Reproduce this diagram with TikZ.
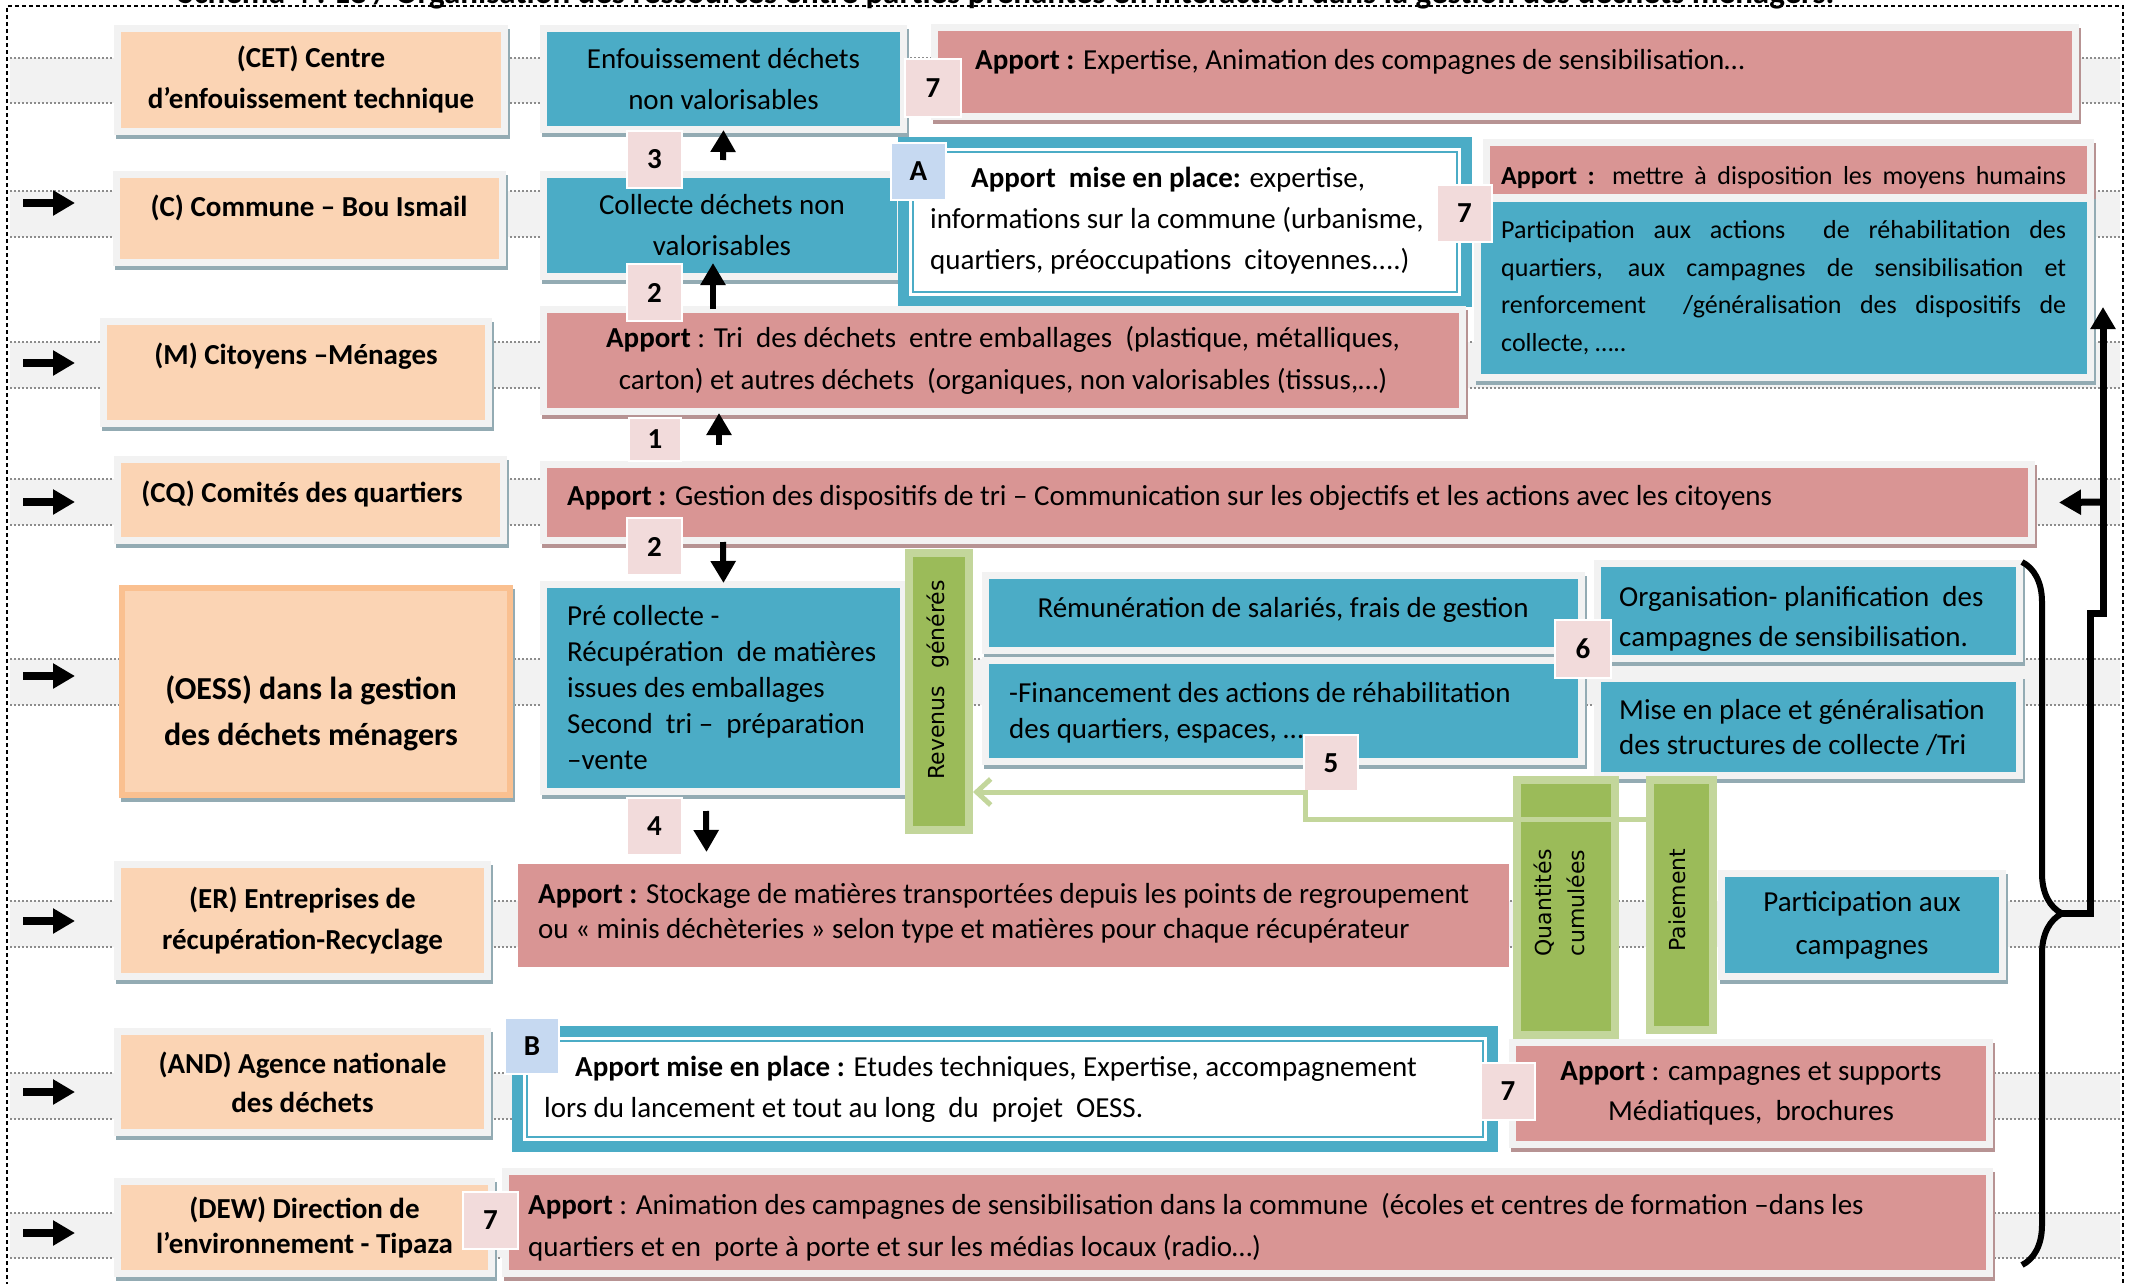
\documentclass[tikz,border=0pt]{standalone}
\usepackage{fontspec}
\setmainfont{Carlito}
\newfontfamily\barfont{DejaVu Sans}
\usepackage{xcolor}
\definecolor{PeachFill}{HTML}{FBD4B4}
\definecolor{PeachLine}{HTML}{FAC090}
\definecolor{TealFill}{HTML}{4BACC6}
\definecolor{RoseFill}{HTML}{D99594}
\definecolor{TagRose}{HTML}{F2DBDB}
\definecolor{TagBlue}{HTML}{C6D9F1}
\definecolor{LeafGreen}{HTML}{9BBB59}
\definecolor{PaleGreen}{HTML}{C3D69B}
\definecolor{FrameGray}{HTML}{F2F2F2}
\definecolor{ShadeBlue}{HTML}{93ABB3}
\definecolor{ShadeRose}{HTML}{B79393}
\definecolor{DotGray}{HTML}{8C8C8C}
\usetikzlibrary{arrows.meta, positioning, decorations.pathreplacing}

\tikzset{
  card/.style={anchor=north west, inner sep=0pt, outer sep=0pt,
    preaction={draw=#1, line width=14pt, transform canvas={shift={(2pt,-4pt)}}},
    preaction={draw=FrameGray, line width=14pt}},
  peachcard/.style={card=ShadeBlue, fill=PeachFill},
  tealcard/.style={card=ShadeBlue, fill=TealFill},
  rosecard/.style={card=ShadeRose, fill=RoseFill},
  planbox/.style={anchor=north west, inner sep=0pt, fill=white, draw=TealFill, line width=2pt,
    preaction={draw=TealFill, line width=30pt}, preaction={draw=white, line width=8pt}},
  greenbar/.style={anchor=north west, inner sep=0pt, fill=LeafGreen, draw=PaleGreen, line width=8pt},
  tag/.style={anchor=north west, fill=TagRose, draw=white, line width=2pt, inner sep=0pt,
    minimum width=55pt, minimum height=57pt, font=\bfseries\fontsize{29}{30}\selectfont},
  bluetag/.style={tag, fill=TagBlue},
  txt/.style={inner sep=0pt, font=\fontsize{29}{41}\selectfont},
  boldtxt/.style={inner sep=0pt, font=\bfseries\fontsize{29}{41}\selectfont},
  bartext/.style={inner sep=0pt, rotate=90, font=\barfont\fontsize{22}{33}\selectfont},
  rowline/.style={DotGray, line width=2pt, dash pattern=on 2pt off 2pt},
  border/.style={line width=2pt, dash pattern=on 4pt off 3pt},
  flow/.style={line width=6pt, -{Triangle[length=22pt, width=24pt]}},
  rowarrow/.style={line width=8pt, -{Triangle[length=22pt, width=24pt]}},
  backflow/.style={line width=7pt, -{Triangle[length=22pt, width=24pt]}},
  greenflow/.style={PaleGreen, line width=5pt, -{Straight Barb[length=14pt, width=26pt]}},
}

\begin{document}
\begin{tikzpicture}[x=1pt, y=-1pt]
  \useasboundingbox (0,0) rectangle (2131,1283);

  % bandes des acteurs
  \foreach \ya/\yb in {58/103,191/237,342/388,479/525,659/705,901/947,1073/1119,1213/1258}{
    \fill[FrameGray] (10,\ya) rectangle (2120,\yb);
    \draw[rowline] (10,\ya) -- (2120,\ya) (10,\yb) -- (2120,\yb);
  }
  \draw[border] (7,1300) -- (7,6) -- (2123,6) -- (2123,1300);
  \begin{scope}
    \clip (0,0) rectangle (2131,1283);
    \node[inner sep=0pt, font=\bfseries\fontsize{33}{41}\selectfont, anchor=base west] (heading) at (178,3) {Schéma 4 : Le / Organisation des ressources entre parties prenantes en interaction dans la gestion des déchets ménagers.};
  \end{scope}
  \foreach \y in {203,363,502,676,921,1092,1233}
    \draw[rowarrow] (23,\y) -- (75,\y);

  % acteurs
  \node[peachcard, minimum width=380pt, minimum height=96pt, boldtxt, align=center] (cet) at (121,32) {(CET) Centre\\d’enfouissement technique};
  \node[peachcard, minimum width=379pt, minimum height=81pt] (com) at (120,178) {};
  \node[boldtxt, anchor=mid] at (309,214) {(C) Commune – Bou Ismail};
  \node[peachcard, minimum width=378pt, minimum height=95pt] (men) at (107,325) {};
  \node[boldtxt, anchor=mid] at (296,362) {(M) Citoyens –Ménages};
  \node[peachcard, minimum width=379pt, minimum height=74pt] (cq) at (121,463) {};
  \node[boldtxt, anchor=mid] at (302,500) {(CQ) Comités des quartiers};
  \node[anchor=north west, inner sep=0pt, fill=PeachFill, draw=PeachLine, line width=6pt,
    preaction={draw=ShadeBlue, line width=6pt, transform canvas={shift={(2pt,-4pt)}}},
    minimum width=388pt, minimum height=207pt] (oess) at (119,585) {};
  \node[inner sep=0pt, font=\bfseries\fontsize{32}{46}\selectfont, align=center, anchor=mid] at (311,743) {(OESS) dans la gestion\\des déchets ménagers};
  \node[peachcard, minimum width=363pt, minimum height=105pt, boldtxt, align=center] (er) at (121,868) {(ER) Entreprises de\\récupération-Recyclage};
  \node[peachcard, minimum width=363pt, minimum height=94pt, boldtxt, align=center, font=\bfseries\fontsize{29}{39}\selectfont] (and) at (121,1035) {(AND) Agence nationale\\des déchets};
  \node[peachcard, minimum width=367pt, minimum height=85pt, boldtxt, align=center, font=\bfseries\fontsize{29}{35}\selectfont] (dew) at (121,1185) {(DEW) Direction de\\l’environnement - Tipaza};

  % colonne centrale
  \node[tealcard, minimum width=353pt, minimum height=94pt, txt, align=center] (enf) at (547,32) {Enfouissement déchets\\non valorisables};
  \node[tealcard, minimum width=350pt, minimum height=95pt, txt, align=center] (col) at (547,178) {Collecte déchets non\\valorisables};
  \node[rosecard, minimum width=1134pt, minimum height=82pt] (expert) at (938,31) {};
  \node[txt, anchor=mid west] at (975,67) {\textbf{Apport :} Expertise, Animation des compagnes de sensibilisation…};
  \node[planbox, minimum width=544pt, minimum height=140pt] (planA) at (912,151) {};
  \node[txt, anchor=mid west, align=left] at (930,267) {\hspace*{41pt}\textbf{Apport\ \ mise en place:} expertise,\\informations sur la commune (urbanisme,\\quartiers, préoccupations\ \ citoyennes....)};
  \node[rosecard, minimum width=912pt, minimum height=95pt, txt, align=center, font=\fontsize{29}{42}\selectfont] (triapp) at (547,313) {\textbf{Apport} : Tri\ \ des déchets\ \ entre emballages\ \ (plastique, métalliques,\\carton) et autres déchets\ \ (organiques, non valorisables (tissus,…)};
  \node[rosecard, minimum width=597pt, minimum height=48pt] (moyens) at (1490,146) {};
  \node[inner sep=0pt, font=\fontsize{26}{37.5}\selectfont, anchor=mid west] at (1501,182) {\makebox[565pt][s]{\textbf{Apport :} mettre à disposition les moyens humains}};
  \node[tealcard, minimum width=606pt, minimum height=172pt] (actions) at (1481,202) {};
  \node[inner sep=0pt, font=\fontsize{26}{37.5}\selectfont, anchor=mid west, align=left] at (1501,349) {\makebox[565pt][s]{Participation aux actions \ de réhabilitation des}\\\makebox[565pt][s]{quartiers, aux campagnes de sensibilisation et}\\\makebox[565pt][s]{renforcement \ /généralisation des dispositifs de}\\collecte, …..};
  \node[rosecard, minimum width=1481pt, minimum height=69pt] (cqapp) at (547,468) {};
  \node[txt, anchor=mid west] at (567,503) {\textbf{Apport :} Gestion des dispositifs de tri – Communication sur les objectifs et les actions avec les citoyens};

  \node[tealcard, minimum width=353pt, minimum height=200pt] (pre) at (547,588) {};
  \node[txt, anchor=mid west, align=left, font=\fontsize{29}{36}\selectfont] at (567,767) {Pré collecte -\\Récupération\ \ de matières\\issues des emballages\\Second\ \ tri –\ \ préparation\\–vente};
  \node[greenbar, minimum width=60pt, minimum height=277pt] (rev) at (905,549) {};
  \node[bartext] at (938,680) {Revenus\hspace{17pt}générés};
  \node[tealcard, minimum width=589pt, minimum height=68pt] (rem) at (989,579) {};
  \node[txt, anchor=mid] at (1283,615) {Rémunération de salariés, frais de gestion};
  \node[tealcard, minimum width=589pt, minimum height=94pt] (fin) at (989,664) {};
  \node[txt, anchor=mid west, align=left, font=\fontsize{29}{36}\selectfont] at (1009,736) {-Financement des actions de réhabilitation\\des quartiers, espaces, …};
  \node[tealcard, minimum width=415pt, minimum height=88pt] (org) at (1601,567) {};
  \node[txt, anchor=mid west, align=left, font=\fontsize{29}{40}\selectfont] at (1619,644) {Organisation- planification \ des\\campagnes de sensibilisation.};
  \node[tealcard, minimum width=415pt, minimum height=90pt] (mise) at (1601,682) {};
  \node[txt, anchor=mid west, align=left, font=\fontsize{29}{35}\selectfont] at (1619,752) {Mise en place et généralisation\\des structures de collecte /Tri};

  \node[anchor=north west, inner sep=0pt, fill=RoseFill, minimum width=991pt, minimum height=103pt] (erapp) at (518,864) {};
  \node[txt, anchor=mid west, align=left, font=\fontsize{29}{35}\selectfont] at (538,936) {\textbf{Apport :} Stockage de matières transportées depuis les points de regroupement\\ou « minis déchèteries » selon type et matières pour chaque récupérateur};
  \node[greenbar, minimum width=98pt, minimum height=255pt] (qte) at (1513,776) {};
  \node[bartext, align=center] at (1559,903) {Quantités\\cumulées};
  \node[greenbar, minimum width=63pt, minimum height=250pt] (paie) at (1646,776) {};
  \node[bartext] at (1677,900) {Paiement};
  \node[tealcard, minimum width=274pt, minimum height=96pt, txt, align=center, font=\fontsize{29}{43}\selectfont] (part) at (1725,877) {Participation aux\\campagnes};

  \node[planbox, minimum width=956pt, minimum height=96pt] (planB) at (526,1040) {};
  \node[txt, anchor=mid west, align=left] at (544,1115) {\hspace*{31pt}\textbf{Apport mise en place :} Etudes techniques, Expertise, accompagnement\\lors du lancement et tout au long\ \ du\ \ projet\ \ OESS.};
  \node[rosecard, minimum width=470pt, minimum height=95pt, txt, align=center, font=\fontsize{29}{40}\selectfont] (andapp) at (1516,1046) {\textbf{Apport} : campagnes et supports\\Médiatiques,\ \ brochures};
  \node[rosecard, minimum width=1477pt, minimum height=95pt] (dewapp) at (509,1175) {};
  \node[txt, anchor=mid west, align=left, font=\fontsize{29}{42}\selectfont] at (528,1254) {\textbf{Apport} : Animation des campagnes de sensibilisation dans la commune\ \ (écoles et centres de formation –dans les\\quartiers et en\ \ porte à porte et sur les médias locaux (radio…)};

  % etiquettes
  \node[tag] (t3) at (626,130) {3};
  \node[tag] (t2up) at (626,263) {2};
  \node[tag, minimum width=52pt, minimum height=43pt] (t1) at (628,417) {1};
  \node[tag] (t2down) at (626,517) {2};
  \node[tag] (t4) at (626,797) {4};
  \node[tag, minimum width=56pt, minimum height=58pt] (t7top) at (904,58) {7};
  \node[bluetag] (tA) at (890,142) {A};
  \node[tag] (t7a) at (1436,184) {7};
  \node[tag, minimum width=56pt, minimum height=58pt] (t6) at (1554,619) {6};
  \node[tag, minimum width=54pt, minimum height=56pt] (t5) at (1303,734) {5};
  \node[bluetag, minimum width=54pt, minimum height=56pt] (tB) at (504,1017) {B};
  \node[tag, minimum width=54pt] (t7b) at (1480,1062) {7};
  \node[tag] (t7c) at (462,1191) {7};

  % fleches
  \coordinate (from3) at (723,160);
  \coordinate (from2) at (713,309);
  \coordinate (from1) at (719,445);
  \coordinate (fromcq) at (723,542);
  \coordinate (frompre) at (706,811);
  \draw[flow] (from3) -- ([yshift=-4pt]enf.south);
  \draw[flow] (from2) -- ([xshift=-9pt, yshift=10pt]col.south);
  \draw[flow] (from1) -- ([xshift=-284pt, yshift=-5pt]triapp.south);
  \draw[flow] (fromcq) -- ([yshift=5pt]pre.north);
  \draw[flow] (frompre) -- ([xshift=-17pt, yshift=-64pt]pre.south);

  \coordinate (gturn) at (1305,819);
  \coordinate (gtop) at (1305,792);
  \draw[greenflow] (paie.west |- gturn) -- (gturn) -- (gtop) -- (rev.east |- gtop);

  \coordinate (bracetop) at (2022,562);
  \coordinate (bracebot) at (2022,1265);
  \draw[decorate, decoration={brace, amplitude=40pt}, line width=6pt] (bracetop) -- (bracebot);
  \coordinate (cusp) at (2062,913);
  \coordinate (fork) at (2103,502);
  \coordinate (risetop) at (2103,307);
  \draw[backflow] (cusp) -- (2090,913) -- (2090,613) -- (2103,613) -- (risetop);
  \draw[backflow] (fork) -- ([xshift=31pt]cqapp.east);
\end{tikzpicture}
\end{document}
